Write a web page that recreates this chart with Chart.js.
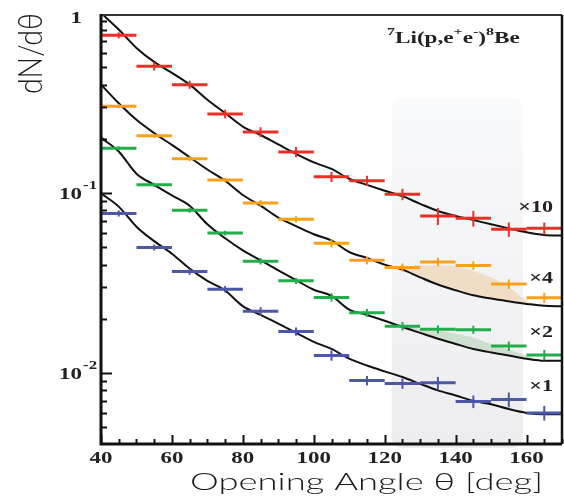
<!DOCTYPE html>
<html>
<head>
<meta charset="utf-8">
<script src="https://cdn.jsdelivr.net/npm/chart.js@4.4.0/dist/chart.umd.min.js"></script>
<style>
  html, body { margin: 0; padding: 0; background: #fff; }
  #wrap { width: 564px; height: 502px; position: relative; }
</style>
</head>
<body>
<div id="wrap"><canvas id="chart"></canvas></div>
<script>
// Measured bins (10 deg wide)
const binCenters = [45, 55, 65, 75, 85, 95, 105, 115, 125, 135, 145, 155, 165];
const binHalfWidth = 5;

const pointsX10 = [0.752, 0.506, 0.400, 0.275, 0.218, 0.169, 0.123, 0.117, 0.0984, 0.0744, 0.0723, 0.0628, 0.0636];
const errX10    = [0.029, 0.027, 0.021, 0.015, 0.014, 0.011, 0.008, 0.0077, 0.0072, 0.0080, 0.0072, 0.0057, 0.0049];
const pointsX4  = [0.303, 0.208, 0.155, 0.118, 0.0880, 0.0714, 0.0526, 0.0423, 0.0386, 0.0414, 0.0396, 0.0312, 0.0262];
const errX4     = [0.008, 0.0054, 0.0047, 0.0035, 0.0035, 0.0029, 0.0028, 0.0022, 0.0020, 0.0022, 0.0021, 0.0019, 0.0017];
const pointsX2  = [0.177, 0.111, 0.0801, 0.0599, 0.0418, 0.0325, 0.0263, 0.0216, 0.0182, 0.0175, 0.0174, 0.0141, 0.0126];
const errX2     = [0.0046, 0.0029, 0.0024, 0.0018, 0.0017, 0.0013, 0.0014, 0.0011, 0.0010, 0.0009, 0.0009, 0.00085, 0.00083];
const pointsX1  = [0.0770, 0.0498, 0.0366, 0.0292, 0.0220, 0.0170, 0.01252, 0.00908, 0.00874, 0.00881, 0.00694, 0.00712, 0.0060];
const errX1     = [0.003, 0.0019, 0.0015, 0.0012, 0.0012, 0.0009, 0.00083, 0.00055, 0.00058, 0.0007, 0.00056, 0.00067, 0.00056];

// Simulation curves
const curveX = [40, 45, 50, 55, 60, 65, 70, 75, 80, 85, 90, 95, 100, 105, 110, 115, 120, 125, 130, 135, 140, 145, 150, 155, 160, 165, 170];
const curveX10 = [1.00, 0.81, 0.64, 0.535, 0.465, 0.40, 0.33, 0.278, 0.234, 0.210, 0.186, 0.165, 0.148, 0.136, 0.120, 0.111, 0.103, 0.096, 0.087, 0.0794, 0.0745, 0.0707, 0.067, 0.0636, 0.0605, 0.0585, 0.058];
const curveX4  = [0.400, 0.315, 0.255, 0.215, 0.185, 0.158, 0.135, 0.117, 0.0975, 0.085, 0.073, 0.0655, 0.059, 0.0545, 0.047, 0.0435, 0.040, 0.0375, 0.034, 0.031, 0.0288, 0.027, 0.0259, 0.025, 0.0242, 0.0236, 0.0235];
const curveX2  = [0.203, 0.170, 0.128, 0.111, 0.097, 0.085, 0.067, 0.056, 0.048, 0.0423, 0.0372, 0.0328, 0.0290, 0.0268, 0.0225, 0.0210, 0.0195, 0.0180, 0.0167, 0.0155, 0.0145, 0.0136, 0.0130, 0.0125, 0.0120, 0.0117, 0.0117];
const curveX1  = [0.0996, 0.084, 0.065, 0.054, 0.046, 0.038, 0.0325, 0.0287, 0.0235, 0.021, 0.0188, 0.0167, 0.0149, 0.0136, 0.0120, 0.0110, 0.0102, 0.0095, 0.0087, 0.0080, 0.0075, 0.0070, 0.0067, 0.0063, 0.0060, 0.0059, 0.0059];

// Excess regions (upper edge, closes on the curve)
const excessX  = [120, 125, 130, 135, 140, 145, 150, 155, 160, 165];
const excessX4 = [0.040, 0.0385, 0.0397, 0.0395, 0.0392, 0.0370, 0.0340, 0.0300, 0.0252, 0.0236];
const excessX2 = [0.0195, 0.0183, 0.0176, 0.0172, 0.0165, 0.0157, 0.0145, 0.0135, 0.0125, 0.0117];

// Shaded angle band
const bandRange = [122, 159];
const bandTop = 0.338;

const xTickLabels = [40, 60, 80, 100, 120, 140, 160];
const yTickLabels = [[1, '1', ''], [0.1, '10', '-1'], [0.01, '10', '-2']];
const scaleLabels = ['×10', '×4', '×2', '×1'];
const scaleLabelAt = [0.0846, 0.0340, 0.0170, 0.00852];

const colRed = '#ec2f26', colOrange = '#f9a11b', colGreen = '#22ad4a', colBlue = '#4c57a8';

function xy(xs, ys) { return xs.map((x, i) => ({ x: x, y: ys[i] })); }

function stretchText(ctx, str, x, y, font, sx, align) {
    ctx.save();
    ctx.font = font;
    ctx.textBaseline = 'alphabetic';
    ctx.textAlign = 'left';
    const w = ctx.measureText(str).width * sx;
    const left = align === 'center' ? x - w / 2 : (align === 'right' ? x - w : x);
    ctx.translate(left, y);
    ctx.scale(sx, 1);
    ctx.fillText(str, 0, 0);
    ctx.restore();
    return w;
}

const bandPlugin = {
    id: 'band',
    beforeDatasetsDraw(chart) {
        const { ctx, scales: { x, y }, chartArea } = chart;
        const l = x.getPixelForValue(bandRange[0]), r = x.getPixelForValue(bandRange[1]);
        const t = y.getPixelForValue(bandTop), b = chartArea.bottom + 4;
        const g = ctx.createLinearGradient(0, t, 0, b);
        g.addColorStop(0, '#f9fafc');
        g.addColorStop(1, '#ededf0');
        ctx.save();
        ctx.fillStyle = g;
        ctx.beginPath();
        ctx.roundRect(l, t, r - l, b - t, 10);
        ctx.fill();
        ctx.restore();
    }
};

const errorBarPlugin = {
    id: 'errorBars',
    afterDatasetsDraw(chart) {
        const { ctx, scales: { x, y } } = chart;
        chart.data.datasets.forEach(ds => {
            if (!ds.errors) return;
            ctx.save();
            ctx.strokeStyle = ds.barColor;
            ds.data.forEach((p, i) => {
                const py = y.getPixelForValue(p.y);
                const px = x.getPixelForValue(p.x);
                ctx.lineWidth = 3;
                ctx.beginPath();
                ctx.moveTo(x.getPixelForValue(p.x - binHalfWidth), py);
                ctx.lineTo(x.getPixelForValue(p.x + binHalfWidth), py);
                ctx.stroke();
                ctx.lineWidth = 2;
                ctx.beginPath();
                ctx.moveTo(px, y.getPixelForValue(p.y + ds.errors[i]));
                ctx.lineTo(px, y.getPixelForValue(p.y - ds.errors[i]));
                ctx.stroke();
            });
            ctx.restore();
        });
    }
};

const framePlugin = {
    id: 'frame',
    afterDraw(chart) {
        const { ctx, scales: { x, y }, chartArea: a } = chart;
        ctx.save();
        ctx.strokeStyle = '#111';
        ctx.lineCap = 'butt';
        // y ticks (inside)
        ctx.lineWidth = 2;
        for (let e = -3; e <= 0; e++) {
            for (let m = 1; m <= 9; m++) {
                const v = m * Math.pow(10, e);
                if (v < y.min || v > y.max) continue;
                const py = Math.round(y.getPixelForValue(v)) + 0.5;
                ctx.beginPath();
                ctx.moveTo(a.left, py);
                ctx.lineTo(a.left + (m === 1 ? 11 : 6), py);
                ctx.stroke();
            }
        }
        // x ticks (inside)
        for (let v = 40; v <= 170; v += 5) {
            const px = Math.round(x.getPixelForValue(v)) + 0.5;
            ctx.beginPath();
            ctx.moveTo(px, a.bottom);
            ctx.lineTo(px, a.bottom - (v % 20 === 0 ? 9 : 5));
            ctx.stroke();
        }
        // frame
        ctx.lineWidth = 2;
        ctx.strokeStyle = '#333';
        ctx.beginPath(); ctx.moveTo(a.left, a.top); ctx.lineTo(a.right, a.top); ctx.stroke();
        ctx.strokeStyle = '#111';
        ctx.lineWidth = 2.5;
        ctx.beginPath(); ctx.moveTo(a.right, a.top); ctx.lineTo(a.right, a.bottom); ctx.stroke();
        ctx.lineWidth = 3;
        ctx.beginPath(); ctx.moveTo(a.left, a.top - 1); ctx.lineTo(a.left, a.bottom); ctx.lineTo(a.right, a.bottom); ctx.stroke();

        // tick labels
        ctx.fillStyle = '#222';
        const tickFont = 'bold 17px "Liberation Serif", serif';
        xTickLabels.forEach(v => {
            stretchText(ctx, String(v), x.getPixelForValue(v), 463, tickFont, 1.35, 'center');
        });
        yTickLabels.forEach(([v, base, exp]) => {
            const py = y.getPixelForValue(v);
            if (!exp) {
                stretchText(ctx, base, 82, 23, tickFont, 1.35, 'right');
            } else {
                stretchText(ctx, base, 82, py + 6, tickFont, 1.35, 'right');
                stretchText(ctx, exp, 83, py - 4, 'bold 13px "Liberation Serif", serif', 1.3, 'left');
            }
        });

        // scale factors
        scaleLabels.forEach((s, i) => {
            stretchText(ctx, s, 553, y.getPixelForValue(scaleLabelAt[i]) + 6, 'bold 17px "Liberation Serif", serif', 1.3, 'right');
        });

        // reaction label
        const main = 'bold 16px "Liberation Serif", serif', sup = 'bold 11px "Liberation Serif", serif';
        const parts = [['7', sup], ['Li(p,e', main], ['+', sup], ['e', main], ['-', sup], [')', main], ['8', sup], ['Be', main]];
        let cx = 387;
        parts.forEach(([t, f]) => {
            const isSup = f === sup;
            cx += stretchText(ctx, t, cx, isSup ? 35 : 43, f, 1.45, 'left');
        });

        // axis titles
        ctx.fillStyle = '#1a1a1a';
        const titleFont = '300 24px "Lato", "DejaVu Sans", sans-serif';
        ctx.font = titleFont;
        const xt = 'Opening Angle θ [deg]';
        const sx = 353 / ctx.measureText(xt).width;
        stretchText(ctx, xt, 190, 490, titleFont, sx, 'left');

        const yt = 'dN/dθ';
        ctx.font = '300 26px "Lato", "DejaVu Sans", sans-serif';
        const len = ctx.measureText(yt).width;
        ctx.translate(42, 94);
        ctx.rotate(-Math.PI / 2);
        ctx.scale(81 / len, 1.25);
        ctx.textAlign = 'left';
        ctx.textBaseline = 'alphabetic';
        ctx.fillText(yt, 0, 0);
        ctx.restore();
    }
};

function curveSet(values) {
    return {
        data: xy(curveX, values),
        borderColor: '#111',
        borderWidth: 2,
        pointRadius: 0,
        fill: false,
        cubicInterpolationMode: 'monotone'
    };
}

function excessSet(values, target, color) {
    return {
        data: xy(excessX, values),
        borderWidth: 0,
        borderColor: 'rgba(0,0,0,0)',
        backgroundColor: color,
        pointRadius: 0,
        fill: target,
        cubicInterpolationMode: 'monotone'
    };
}

function pointSet(values, errors, color) {
    return {
        data: xy(binCenters, values),
        errors: errors,
        barColor: color,
        showLine: false,
        pointRadius: 0
    };
}

new Chart(document.getElementById('chart'), {
    type: 'line',
    data: {
        datasets: [
            curveSet(curveX10),
            curveSet(curveX4),
            curveSet(curveX2),
            curveSet(curveX1),
            excessSet(excessX4, 1, 'rgba(238, 196, 140, 0.45)'),
            excessSet(excessX2, 2, 'rgba(140, 190, 140, 0.35)'),
            pointSet(pointsX10, errX10, colRed),
            pointSet(pointsX4, errX4, colOrange),
            pointSet(pointsX2, errX2, colGreen),
            pointSet(pointsX1, errX1, colBlue)
        ]
    },
    options: {
        responsive: true,
        maintainAspectRatio: false,
        animation: false,
        layout: { padding: { top: 15, right: 2, left: 0, bottom: 0 } },
        plugins: { legend: { display: false }, tooltip: { enabled: false } },
        scales: {
            x: {
                type: 'linear',
                min: 40,
                max: 170,
                grid: { display: false },
                border: { display: false },
                ticks: { display: false, stepSize: 20, includeBounds: false },
                afterFit: s => { s.height = 58; }
            },
            y: {
                type: 'logarithmic',
                min: 0.00403,
                max: 0.975,
                grid: { display: false },
                border: { display: false },
                ticks: { display: false },
                afterFit: s => { s.width = 101; }
            }
        }
    },
    plugins: [bandPlugin, errorBarPlugin, framePlugin]
});
</script>
</body>
</html>
